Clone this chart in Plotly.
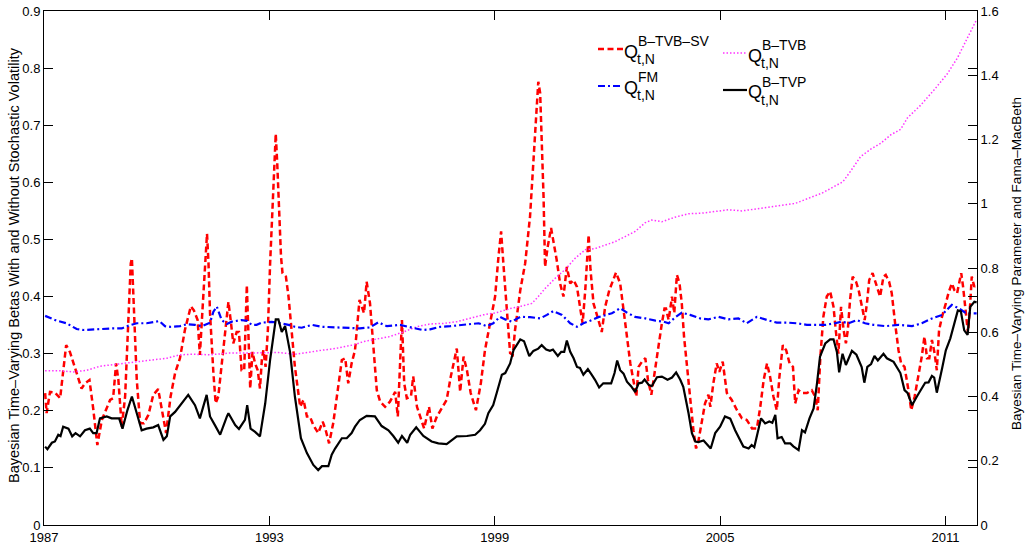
import plotly.graph_objects as go

# ---------------- data ----------------
# Q^{B-TVB-SV}: red dashed, left axis
sv_year = [1987.03, 1987.07, 1987.16, 1987.29, 1987.43, 1987.51, 1987.59, 1987.69, 1987.83, 1988.00,
           1988.09, 1988.21, 1988.31, 1988.42, 1988.54, 1988.65, 1988.76, 1988.84, 1988.92, 1988.98,
           1989.07, 1989.16, 1989.24, 1989.31, 1989.34, 1989.40, 1989.47, 1989.56, 1989.66, 1989.78,
           1989.91, 1990.04, 1990.13, 1990.25, 1990.37, 1990.49, 1990.62, 1990.75, 1990.91, 1990.99,
           1991.09, 1991.15, 1991.24, 1991.29, 1991.34, 1991.38, 1991.42, 1991.51, 1991.57, 1991.64,
           1991.73, 1991.82, 1991.91, 1991.98, 1992.04, 1992.13, 1992.19, 1992.26, 1992.33, 1992.40,
           1992.44, 1992.49, 1992.55, 1992.62, 1992.69, 1992.75, 1992.80, 1992.84, 1992.90, 1992.96,
           1993.02, 1993.08, 1993.13, 1993.17, 1993.21, 1993.26, 1993.31, 1993.35, 1993.44, 1993.51,
           1993.60, 1993.68, 1993.82, 1993.91, 1994.00, 1994.08, 1994.17, 1994.30, 1994.42, 1994.50,
           1994.59, 1994.70, 1994.82, 1994.93, 1995.02, 1995.10, 1995.19, 1995.28, 1995.40, 1995.46,
           1995.52, 1995.59, 1995.68, 1995.77, 1995.86, 1995.95, 1996.08, 1996.21, 1996.35, 1996.42,
           1996.48, 1996.53, 1996.59, 1996.66, 1996.77, 1996.83, 1996.93, 1997.03, 1997.12, 1997.25,
           1997.34, 1997.46, 1997.59, 1997.72, 1997.83, 1997.92, 1997.99, 1998.08, 1998.17, 1998.26,
           1998.36, 1998.50, 1998.63, 1998.74, 1998.88, 1999.01, 1999.10, 1999.17, 1999.23, 1999.30,
           1999.37, 1999.41, 1999.48, 1999.54, 1999.68, 1999.81, 1999.94, 2000.03, 2000.12, 2000.16,
           2000.21, 2000.25, 2000.30, 2000.34, 2000.41, 2000.50, 2000.56, 2000.65, 2000.74, 2000.83,
           2000.92, 2001.01, 2001.10, 2001.19, 2001.27, 2001.34, 2001.41, 2001.45, 2001.50, 2001.55,
           2001.63, 2001.76, 2001.85, 2001.94, 2002.05, 2002.12, 2002.23, 2002.34, 2002.43, 2002.52,
           2002.61, 2002.69, 2002.77, 2002.83, 2002.92, 2003.01, 2003.08, 2003.17, 2003.25, 2003.36,
           2003.45, 2003.52, 2003.56, 2003.63, 2003.72, 2003.78, 2003.85, 2003.92, 2003.98, 2004.04,
           2004.12, 2004.20, 2004.29, 2004.36, 2004.42, 2004.51, 2004.60, 2004.69, 2004.74, 2004.82,
           2004.91, 2004.98, 2005.07, 2005.18, 2005.31, 2005.45, 2005.58, 2005.71, 2005.85, 2005.98,
           2006.07, 2006.16, 2006.25, 2006.33, 2006.42, 2006.51, 2006.58, 2006.67, 2006.76, 2006.85,
           2006.94, 2007.00, 2007.09, 2007.18, 2007.31, 2007.44, 2007.53, 2007.60, 2007.67, 2007.75,
           2007.84, 2007.93, 2008.02, 2008.08, 2008.15, 2008.22, 2008.29, 2008.35, 2008.40, 2008.46,
           2008.53, 2008.62, 2008.69, 2008.76, 2008.85, 2008.91, 2008.97, 2009.06, 2009.13, 2009.20,
           2009.26, 2009.35, 2009.41, 2009.50, 2009.57, 2009.66, 2009.75, 2009.82, 2009.91, 2010.00,
           2010.09, 2010.18, 2010.28, 2010.37, 2010.44, 2010.51, 2010.57, 2010.64, 2010.71, 2010.77,
           2010.83, 2010.91, 2011.01, 2011.08, 2011.17, 2011.24, 2011.31, 2011.37, 2011.42, 2011.47,
           2011.53, 2011.60, 2011.66, 2011.70, 2011.77, 2011.83]
sv_val = [0.231, 0.196, 0.233, 0.232, 0.222, 0.266, 0.315, 0.303, 0.274, 0.239,
          0.248, 0.254, 0.204, 0.140, 0.184, 0.201, 0.219, 0.222, 0.283, 0.254,
          0.172, 0.225, 0.341, 0.458, 0.467, 0.371, 0.254, 0.178, 0.178, 0.193,
          0.228, 0.238, 0.207, 0.161, 0.225, 0.266, 0.292, 0.341, 0.383, 0.376,
          0.359, 0.298, 0.400, 0.458, 0.510, 0.458, 0.371, 0.266, 0.213, 0.225,
          0.283, 0.341, 0.391, 0.353, 0.318, 0.338, 0.338, 0.271, 0.271, 0.420,
          0.341, 0.239, 0.303, 0.283, 0.271, 0.239, 0.289, 0.306, 0.277, 0.341,
          0.458, 0.557, 0.645, 0.685, 0.633, 0.557, 0.470, 0.441, 0.435, 0.400,
          0.341, 0.277, 0.207, 0.219, 0.190, 0.190, 0.175, 0.161, 0.181, 0.166,
          0.143, 0.178, 0.236, 0.289, 0.292, 0.248, 0.283, 0.306, 0.394, 0.382,
          0.371, 0.426, 0.388, 0.312, 0.236, 0.216, 0.207, 0.216, 0.233, 0.190,
          0.283, 0.359, 0.248, 0.222, 0.225, 0.260, 0.207, 0.187, 0.169, 0.207,
          0.169, 0.190, 0.204, 0.219, 0.260, 0.289, 0.309, 0.233, 0.295, 0.271,
          0.231, 0.201, 0.248, 0.306, 0.353, 0.400, 0.470, 0.514, 0.458, 0.400,
          0.341, 0.301, 0.298, 0.341, 0.411, 0.458, 0.540, 0.633, 0.721, 0.776,
          0.756, 0.680, 0.575, 0.452, 0.487, 0.520, 0.499, 0.464, 0.423, 0.400,
          0.452, 0.423, 0.429, 0.417, 0.382, 0.353, 0.411, 0.458, 0.508, 0.447,
          0.388, 0.359, 0.338, 0.382, 0.411, 0.423, 0.442, 0.423, 0.371, 0.330,
          0.283, 0.254, 0.225, 0.277, 0.286, 0.292, 0.254, 0.228, 0.266, 0.312,
          0.353, 0.379, 0.379, 0.359, 0.400, 0.371, 0.438, 0.423, 0.388, 0.330,
          0.283, 0.225, 0.166, 0.134, 0.146, 0.178, 0.213, 0.228, 0.207, 0.248,
          0.283, 0.268, 0.286, 0.231, 0.219, 0.201, 0.187, 0.184, 0.169, 0.169,
          0.207, 0.254, 0.283, 0.260, 0.225, 0.201, 0.260, 0.315, 0.306, 0.283,
          0.277, 0.213, 0.236, 0.231, 0.231, 0.236, 0.225, 0.201, 0.295, 0.365,
          0.400, 0.409, 0.382, 0.341, 0.300, 0.382, 0.341, 0.318, 0.341, 0.394,
          0.435, 0.426, 0.411, 0.388, 0.359, 0.388, 0.429, 0.441, 0.426, 0.411,
          0.400, 0.435, 0.438, 0.426, 0.406, 0.353, 0.306, 0.283, 0.277, 0.242,
          0.201, 0.225, 0.260, 0.295, 0.330, 0.292, 0.292, 0.324, 0.301, 0.271,
          0.341, 0.365, 0.388, 0.406, 0.423, 0.411, 0.406, 0.423, 0.441, 0.417,
          0.376, 0.336, 0.388, 0.435, 0.417, 0.423]

# Q^{B-TVB}: magenta dotted, left axis
tvb_year = [1987.03, 1987.43, 1987.78, 1988.14, 1988.49, 1988.85, 1989.20, 1989.56, 1989.91, 1990.27,
            1990.62, 1990.98, 1991.42, 1991.91, 1992.35, 1992.80, 1993.24, 1993.68, 1994.04, 1994.40,
            1994.75, 1995.10, 1995.28, 1995.50, 1995.86, 1996.21, 1996.57, 1996.92, 1997.28, 1997.63,
            1997.99, 1998.34, 1998.70, 1999.06, 1999.41, 1999.64, 1999.99, 2000.16, 2000.34, 2000.61,
            2000.87, 2001.14, 2001.41, 2001.67, 2001.94, 2002.20, 2002.47, 2002.74, 2003.00, 2003.18,
            2003.45, 2003.80, 2004.16, 2004.51, 2004.87, 2005.22, 2005.58, 2005.93, 2006.29, 2006.64,
            2007.00, 2007.35, 2007.71, 2008.02, 2008.27, 2008.48, 2008.74, 2009.01, 2009.27, 2009.54,
            2009.81, 2009.99, 2010.34, 2010.70, 2011.05, 2011.32, 2011.59, 2011.83]
tvb_val = [0.270, 0.270, 0.268, 0.271, 0.278, 0.281, 0.283, 0.286, 0.289, 0.292,
           0.298, 0.299, 0.298, 0.301, 0.301, 0.301, 0.302, 0.299, 0.303, 0.306,
           0.309, 0.313, 0.316, 0.321, 0.325, 0.330, 0.338, 0.347, 0.352, 0.353,
           0.356, 0.362, 0.368, 0.372, 0.379, 0.382, 0.388, 0.400, 0.414, 0.432,
           0.447, 0.467, 0.482, 0.484, 0.490, 0.496, 0.505, 0.514, 0.529, 0.534,
           0.531, 0.539, 0.545, 0.546, 0.549, 0.552, 0.550, 0.553, 0.556, 0.559,
           0.563, 0.572, 0.581, 0.592, 0.601, 0.620, 0.645, 0.658, 0.668, 0.683,
           0.693, 0.713, 0.735, 0.762, 0.790, 0.818, 0.852, 0.885]

# Q^{FM}: blue dash-dot, right axis
fm_year = [1987.03, 1987.34, 1987.60, 1987.87, 1988.05, 1988.31, 1988.58, 1988.85, 1989.07, 1989.24,
           1989.47, 1989.73, 1990.07, 1990.22, 1990.36, 1990.62, 1990.80, 1991.02, 1991.20, 1991.42,
           1991.51, 1991.60, 1991.73, 1991.87, 1992.00, 1992.26, 1992.40, 1992.53, 1992.66, 1992.80,
           1993.06, 1993.20, 1993.51, 1993.68, 1993.86, 1994.13, 1994.40, 1994.84, 1995.10, 1995.41,
           1995.68, 1995.90, 1996.13, 1996.48, 1996.70, 1997.08, 1997.28, 1997.55, 1997.81, 1998.08,
           1998.57, 1998.79, 1998.96, 1999.14, 1999.28, 1999.45, 1999.68, 1999.94, 2000.21, 2000.39,
           2000.56, 2000.79, 2001.01, 2001.19, 2001.36, 2001.54, 2001.76, 2002.12, 2002.34, 2002.52,
           2002.74, 2003.01, 2003.28, 2003.49, 2003.63, 2003.81, 2003.98, 2004.20, 2004.47, 2004.69,
           2004.96, 2005.22, 2005.49, 2005.71, 2005.98, 2006.25, 2006.51, 2006.78, 2007.04, 2007.31,
           2007.58, 2007.80, 2008.06, 2008.24, 2008.42, 2008.64, 2008.86, 2009.08, 2009.40, 2009.75,
           2010.11, 2010.37, 2010.64, 2010.91, 2011.08, 2011.17, 2011.35, 2011.53, 2011.71, 2011.83]
fm_val = [0.651, 0.636, 0.628, 0.610, 0.607, 0.609, 0.612, 0.612, 0.612, 0.620,
          0.628, 0.628, 0.635, 0.619, 0.617, 0.619, 0.625, 0.623, 0.619, 0.630,
          0.664, 0.680, 0.638, 0.626, 0.633, 0.638, 0.636, 0.623, 0.623, 0.630,
          0.632, 0.630, 0.623, 0.617, 0.614, 0.623, 0.617, 0.615, 0.612, 0.612,
          0.615, 0.631, 0.619, 0.623, 0.617, 0.607, 0.609, 0.617, 0.619, 0.623,
          0.628, 0.619, 0.628, 0.648, 0.640, 0.633, 0.648, 0.647, 0.643, 0.654,
          0.666, 0.654, 0.628, 0.617, 0.628, 0.636, 0.647, 0.659, 0.675, 0.661,
          0.648, 0.643, 0.636, 0.633, 0.628, 0.647, 0.661, 0.654, 0.643, 0.640,
          0.648, 0.640, 0.643, 0.628, 0.648, 0.638, 0.630, 0.630, 0.628, 0.623,
          0.623, 0.623, 0.628, 0.633, 0.628, 0.638, 0.628, 0.623, 0.619, 0.623,
          0.619, 0.628, 0.643, 0.654, 0.675, 0.685, 0.675, 0.661, 0.659, 0.659]

# Q^{B-TVP}: black solid, right axis
tvp_year = [1987.03, 1987.09, 1987.21, 1987.29, 1987.38, 1987.44, 1987.51, 1987.65, 1987.75, 1987.84,
            1987.96, 1988.09, 1988.22, 1988.31, 1988.40, 1988.49, 1988.67, 1988.80, 1989.00, 1989.09,
            1989.22, 1989.34, 1989.47, 1989.60, 1989.73, 1989.91, 1990.04, 1990.18, 1990.27, 1990.36,
            1990.49, 1990.62, 1990.84, 1991.02, 1991.15, 1991.33, 1991.42, 1991.55, 1991.69, 1991.87,
            1991.91, 1992.09, 1992.19, 1992.35, 1992.41, 1992.50, 1992.62, 1992.75, 1992.89, 1993.02,
            1993.17, 1993.24, 1993.33, 1993.42, 1993.55, 1993.68, 1993.84, 1994.00, 1994.17, 1994.30,
            1994.40, 1994.57, 1994.66, 1994.75, 1994.93, 1995.06, 1995.19, 1995.28, 1995.41, 1995.59,
            1995.81, 1995.99, 1996.17, 1996.30, 1996.43, 1996.53, 1996.67, 1996.75, 1996.91, 1997.01,
            1997.10, 1997.32, 1997.50, 1997.72, 1997.99, 1998.26, 1998.48, 1998.61, 1998.74, 1998.83,
            1998.96, 1999.06, 1999.19, 1999.28, 1999.41, 1999.50, 1999.68, 1999.78, 1999.92, 2000.03,
            2000.16, 2000.25, 2000.37, 2000.47, 2000.55, 2000.68, 2000.77, 2000.85, 2000.92, 2001.01,
            2001.10, 2001.19, 2001.27, 2001.36, 2001.48, 2001.58, 2001.67, 2001.78, 2001.89, 2002.10,
            2002.19, 2002.26, 2002.34, 2002.43, 2002.52, 2002.63, 2002.74, 2002.83, 2002.92, 2002.99,
            2003.10, 2003.18, 2003.32, 2003.45, 2003.60, 2003.72, 2003.83, 2003.94, 2004.02, 2004.16,
            2004.25, 2004.34, 2004.42, 2004.56, 2004.65, 2004.75, 2004.87, 2005.00, 2005.13, 2005.27,
            2005.40, 2005.53, 2005.62, 2005.76, 2005.84, 2005.91, 2006.02, 2006.09, 2006.20, 2006.31,
            2006.39, 2006.47, 2006.53, 2006.64, 2006.73, 2006.87, 2006.95, 2007.09, 2007.18, 2007.26,
            2007.38, 2007.49, 2007.58, 2007.66, 2007.80, 2007.93, 2008.02, 2008.11, 2008.17, 2008.26,
            2008.35, 2008.51, 2008.63, 2008.77, 2008.84, 2008.92, 2009.02, 2009.11, 2009.20, 2009.35,
            2009.44, 2009.62, 2009.80, 2009.91, 2009.99, 2010.11, 2010.24, 2010.37, 2010.46, 2010.55,
            2010.64, 2010.70, 2010.77, 2010.91, 2011.01, 2011.13, 2011.21, 2011.33, 2011.41, 2011.50,
            2011.59, 2011.66, 2011.77, 2011.83]
tvp_val = [0.244, 0.236, 0.256, 0.260, 0.281, 0.277, 0.306, 0.300, 0.276, 0.286,
           0.276, 0.295, 0.300, 0.286, 0.286, 0.332, 0.338, 0.332, 0.332, 0.300,
           0.357, 0.400, 0.348, 0.295, 0.300, 0.304, 0.311, 0.265, 0.276, 0.338,
           0.352, 0.373, 0.405, 0.373, 0.332, 0.405, 0.338, 0.311, 0.281, 0.338,
           0.348, 0.311, 0.299, 0.327, 0.373, 0.300, 0.290, 0.276, 0.379, 0.514,
           0.640, 0.640, 0.601, 0.619, 0.539, 0.400, 0.270, 0.224, 0.187, 0.171,
           0.183, 0.183, 0.219, 0.238, 0.270, 0.270, 0.286, 0.306, 0.327, 0.340,
           0.338, 0.308, 0.295, 0.277, 0.256, 0.277, 0.256, 0.281, 0.304, 0.290,
           0.277, 0.260, 0.254, 0.252, 0.276, 0.277, 0.281, 0.295, 0.315, 0.348,
           0.373, 0.414, 0.468, 0.473, 0.503, 0.544, 0.578, 0.572, 0.526, 0.542,
           0.549, 0.560, 0.546, 0.542, 0.546, 0.526, 0.539, 0.539, 0.574, 0.539,
           0.519, 0.492, 0.489, 0.468, 0.485, 0.468, 0.452, 0.428, 0.441, 0.441,
           0.473, 0.512, 0.482, 0.471, 0.446, 0.432, 0.414, 0.441, 0.443, 0.453,
           0.436, 0.432, 0.460, 0.462, 0.452, 0.459, 0.475, 0.452, 0.430, 0.348,
           0.286, 0.260, 0.258, 0.263, 0.251, 0.238, 0.286, 0.306, 0.338, 0.331,
           0.295, 0.265, 0.244, 0.238, 0.249, 0.242, 0.300, 0.332, 0.316, 0.322,
           0.318, 0.343, 0.270, 0.274, 0.254, 0.254, 0.245, 0.233, 0.295, 0.288,
           0.332, 0.363, 0.441, 0.524, 0.565, 0.578, 0.578, 0.539, 0.475, 0.533,
           0.498, 0.542, 0.530, 0.492, 0.443, 0.492, 0.501, 0.526, 0.512, 0.533,
           0.519, 0.508, 0.473, 0.420, 0.411, 0.373, 0.400, 0.427, 0.443, 0.444,
           0.464, 0.459, 0.412, 0.487, 0.544, 0.581, 0.617, 0.668, 0.665, 0.606,
           0.592, 0.679, 0.695, 0.693]

x_ticks = [1987, 1993, 1999, 2005, 2011]
x_range = [1987, 2011.84]
left_ticks = [0, 0.1, 0.2, 0.3, 0.4, 0.5, 0.6, 0.7, 0.8, 0.9]
left_labels = ["0", "0.1", "0.2", "0.3", "0.4", "0.5", "0.6", "0.7", "0.8", "0.9"]
right_ticks = [0, 0.2, 0.4, 0.6, 0.8, 1.0, 1.2, 1.4, 1.6]
right_labels = ["0", "0.2", "0.4", "0.6", "0.8", "1", "1.2", "1.4", "1.6"]

left_title = "Bayesian Time–Varying Betas With and Without Stochastic Volatility"
right_title = "Bayesian Time–Varying Parameter and Fama–MacBeth"

# ---------------- styling / layout ----------------
W, H = 1030, 547
PL, PR, PT, PB = 44, 977, 11, 525   # plot-area pixel box
FONT = "Liberation Sans, Arial, Helvetica, sans-serif"

RED = dict(color="#FF0000", width=2.5, dash="6px,3.5px")
MAG = dict(color="#FF33FF", width=1.5, dash="1.5px,2px")
BLUE = dict(color="#0000FF", width=2.2, dash="7px,3px,2px,3px")
BLACK = dict(color="#000000", width=2.2)


def px(xp):
    return (xp - PL) / (PR - PL)


def py(yp):
    return (PB - yp) / (PB - PT)


fig = go.Figure()
fig.add_trace(go.Scatter(x=sv_year, y=sv_val, mode="lines", line=RED, yaxis="y", showlegend=False))
fig.add_trace(go.Scatter(x=tvb_year, y=tvb_val, mode="lines", line=MAG, yaxis="y", showlegend=False))
fig.add_trace(go.Scatter(x=fm_year, y=fm_val, mode="lines", line=BLUE, yaxis="y2", showlegend=False))
fig.add_trace(go.Scatter(x=tvp_year, y=tvp_val, mode="lines", line=BLACK, yaxis="y2", showlegend=False))

axis_common = dict(showgrid=False, zeroline=False, showline=True, linecolor="black", linewidth=1,
                   ticks="inside", ticklen=9, tickcolor="black", tickwidth=1, automargin=False,
                   tickfont=dict(family=FONT, size=13, color="black"))

fig.update_layout(
    template="none",
    width=W, height=H,
    margin=dict(l=PL, r=W - PR, t=PT, b=H - PB, pad=0, autoexpand=False),
    paper_bgcolor="white", plot_bgcolor="white",
    font=dict(family=FONT, color="black"),
    xaxis=dict(range=x_range, tickvals=x_ticks, ticktext=[str(v) for v in x_ticks],
               mirror="ticks", **axis_common),
    yaxis=dict(range=[0, 0.9], tickvals=left_ticks, ticktext=left_labels, mirror="ticks", **axis_common),
    yaxis2=dict(range=[0, 1.6], tickvals=right_ticks, ticktext=right_labels, overlaying="y",
                side="right", **axis_common),
    showlegend=False,
)

annotations = [
    dict(text=left_title, x=px(14), y=py(265), xref="paper", yref="paper", textangle=-90,
         showarrow=False, xanchor="center", yanchor="middle", font=dict(family=FONT, size=14.5)),
    dict(text=right_title, x=px(1016), y=py(264), xref="paper", yref="paper", textangle=-90,
         showarrow=False, xanchor="center", yanchor="middle", font=dict(family=FONT, size=13.5)),
]

shapes = []
# legend: (line x0, x1, line y, Q x, Q y, sup text, sup x, sup y, sub y, style)
legend_items = [
    (598, 623, 49, 622, 52, "B–TVB–SV", 636, 41, 59, RED),
    (598, 623, 86, 622, 88, "FM", 636, 77, 95, BLUE),
    (723, 747, 53, 746, 56, "B–TVB", 760, 45, 63, MAG),
    (723, 747, 90, 746, 92, "B–TVP", 760, 82, 100, BLACK),
]
for x0, x1, ly, qx, qy, sup, supx, supy, suby, style in legend_items:
    shapes.append(dict(type="line", xref="paper", yref="paper", x0=px(x0), x1=px(x1), y0=py(ly), y1=py(ly),
                       line=style))
    annotations.append(dict(text="Q", x=px(qx), y=py(qy), xref="paper", yref="paper", showarrow=False,
                            xanchor="left", yanchor="middle", font=dict(family=FONT, size=18)))
    annotations.append(dict(text=sup, x=px(supx), y=py(supy), xref="paper", yref="paper",
                            showarrow=False, xanchor="left", yanchor="middle",
                            font=dict(family=FONT, size=14)))
    annotations.append(dict(text="t,N", x=px(supx - 1), y=py(suby), xref="paper", yref="paper",
                            showarrow=False, xanchor="left", yanchor="middle",
                            font=dict(family=FONT, size=14)))

fig.update_layout(annotations=annotations, shapes=shapes)
fig.write_html("out.html")
